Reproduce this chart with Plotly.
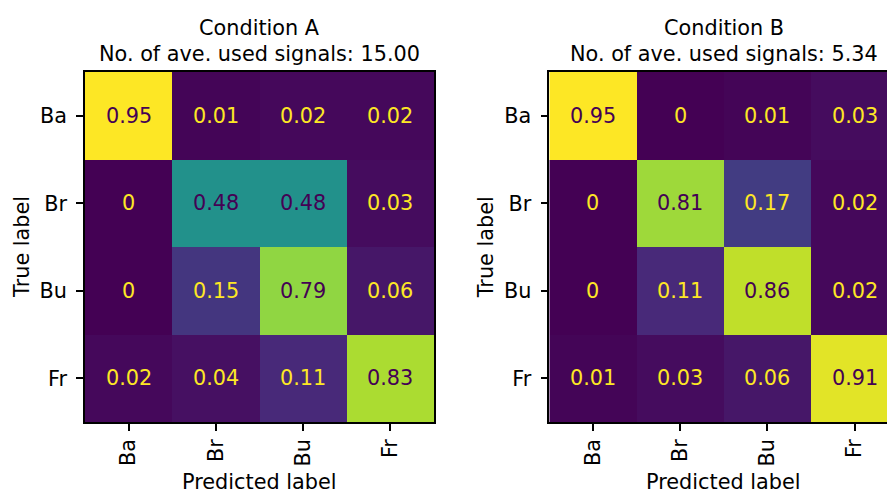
import plotly.graph_objects as go

labels = ["Ba", "Br", "Bu", "Fr"]

cm_a = [
    [0.95, 0.01, 0.02, 0.02],
    [0.00, 0.48, 0.48, 0.03],
    [0.00, 0.15, 0.79, 0.06],
    [0.02, 0.04, 0.11, 0.83],
]
cm_b = [
    [0.95, 0.00, 0.01, 0.03],
    [0.00, 0.81, 0.17, 0.02],
    [0.00, 0.11, 0.86, 0.02],
    [0.01, 0.03, 0.06, 0.91],
]
titles = ["Condition A<br>No. of ave. used signals: 15.00",
          "Condition B<br>No. of ave. used signals: 5.34"]

W, H = 887, 493
FONT = "DejaVu Sans"
FS = 20.8
DARK = "#440154"
LIGHT = "#fde725"

# pixel geometry of the two plot frames
left_px = [85, 549.3]
cell = 87.25
top_px, bot_px = 72, 422

def px(x):
    return x / W

def py(y):
    return 1 - y / H

fig = go.Figure()
annotations = []

for i, (cm, title) in enumerate(zip([cm_a, cm_b], titles)):
    xa = "x" if i == 0 else "x2"
    ya = "y" if i == 0 else "y2"
    flat = [v for row in cm for v in row]
    vmin, vmax = min(flat), max(flat)
    fig.add_trace(go.Heatmap(
        z=cm, x=list(range(4)), y=list(range(4)),
        colorscale="Viridis", zmin=vmin, zmax=vmax,
        showscale=False, xaxis=xa, yaxis=ya, hoverinfo="skip",
    ))
    thresh = (vmin + vmax) / 2
    for r in range(4):
        for c in range(4):
            v = cm[r][c]
            txt = f"{v:.2g}"
            annotations.append(dict(
                x=c, y=r, xref=xa, yref=ya, text=txt, showarrow=False,
                font=dict(family=FONT, size=FS, color=DARK if v >= thresh else LIGHT),
            ))
    x0 = left_px[i]
    x1 = x0 + 4 * cell
    xc = (x0 + x1) / 2
    lines = title.split("<br>")
    annotations.append(dict(x=px(xc), y=py(28), xref="paper", yref="paper",
                            text=lines[0], showarrow=False, xanchor="center", yanchor="middle",
                            font=dict(family=FONT, size=FS, color="black")))
    annotations.append(dict(x=px(xc), y=py(54), xref="paper", yref="paper",
                            text=lines[1], showarrow=False, xanchor="center", yanchor="middle",
                            font=dict(family=FONT, size=FS, color="black")))
    annotations.append(dict(x=px(xc), y=py(482), xref="paper", yref="paper",
                            text="Predicted label", showarrow=False, xanchor="center", yanchor="middle",
                            font=dict(family=FONT, size=FS, color="black")))
    annotations.append(dict(x=px(x0 - 63), y=py((top_px + bot_px) / 2), xref="paper", yref="paper",
                            text="True label", showarrow=False, xanchor="center", yanchor="middle",
                            textangle=-90,
                            font=dict(family=FONT, size=FS, color="black")))

axis_common = dict(
    tickmode="array", tickvals=list(range(4)), ticktext=labels,
    ticks="outside", ticklen=7, tickwidth=1.6, tickcolor="black",
    showline=True, linecolor="black", linewidth=1.6,
    showgrid=False, zeroline=False,
    tickfont=dict(family=FONT, size=FS, color="black"),
    fixedrange=True,
)

right_end = min(left_px[1] + 4 * cell, W)
vis_max = -0.5 + (right_end - left_px[1]) / cell

fig.update_layout(
    width=W, height=H,
    margin=dict(l=0, r=0, t=0, b=0),
    paper_bgcolor="white", plot_bgcolor="white",
    showlegend=False,
    xaxis=dict(axis_common, domain=[px(left_px[0]), px(left_px[0] + 4 * cell)],
               range=[-0.5, 3.5], mirror=True, tickangle=-90, anchor="y",
               ticklabelstandoff=0),
    yaxis=dict(axis_common, domain=[py(bot_px), py(top_px)],
               range=[3.5, -0.5], mirror=True, anchor="x", ticklabelstandoff=5),
    xaxis2=dict(axis_common, domain=[px(left_px[1]), px(right_end)],
                range=[-0.5, vis_max], mirror=True, tickangle=-90, anchor="y2",
                ticklabelstandoff=0),
    yaxis2=dict(axis_common, domain=[py(bot_px), py(top_px)],
                range=[3.5, -0.5], mirror=False, anchor="x2", ticklabelstandoff=5),
    annotations=annotations,
)

fig.write_html("out.html")
